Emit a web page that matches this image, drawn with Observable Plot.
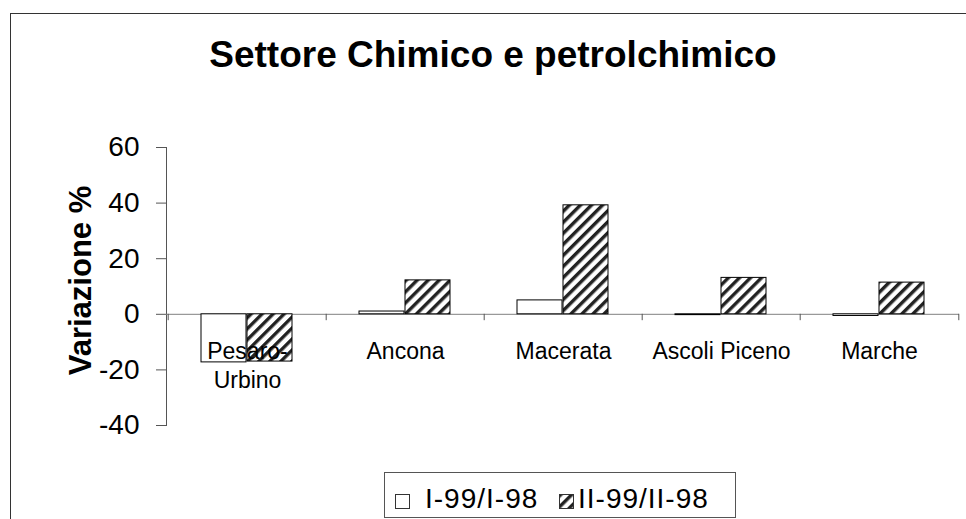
<!DOCTYPE html>
<html>
<head>
<meta charset="utf-8">
<script src="https://cdn.jsdelivr.net/npm/d3@7"></script>
<script src="https://cdn.jsdelivr.net/npm/@observablehq/plot@0.6"></script>
<style>
  html, body { margin: 0; padding: 0; background: white; }
  #wrap { position: relative; width: 966px; height: 519px; overflow: hidden; font-family: "Liberation Sans", Arial, sans-serif; background: white; }
  #chart { position: absolute; left: 0; top: 0; }
  #frame { position: absolute; left: 10px; top: 13px; width: 1000px; height: 600px; border: 1px solid #333; pointer-events: none; }
  #title { position: absolute; left: 0; top: 36px; width: 986px; text-align: center; font-weight: bold; font-size: 37px; line-height: 37px; color: #000; }
  #ylabel { position: absolute; left: -70px; top: 264.5px; width: 300px; text-align: center; font-weight: bold; font-size: 31px; line-height: 31px; color: #000; transform: rotate(-90deg); transform-origin: 150px 15.5px; white-space: nowrap; }
  #legend { position: absolute; left: 384px; top: 472px; width: 352px; height: 46px; box-sizing: border-box; border: 1px solid #555; background: white; }
  #legend .sw { position: absolute; top: 21px; }
  #legend .lab { position: absolute; top: 12px; font-size: 28px; line-height: 28px; letter-spacing: 1px; color: #000; white-space: nowrap; }
</style>
</head>
<body>
<div id="wrap">
  <div id="chart"></div>
  <div id="title"></div>
  <div id="ylabel"></div>
  <div id="legend"></div>
  <div id="frame"></div>
</div>
<script>
const titleText = "Settore Chimico e petrolchimico";
const yLabel = "Variazione %";
const categories = ["Pesaro-\nUrbino", "Ancona", "Macerata", "Ascoli Piceno", "Marche"];
const series = ["I-99/I-98", "II-99/II-98"];
const valuesI = [-17.3, 1.0, 5.0, -0.3, -0.6];
const valuesII = [-17.0, 12.2, 39.2, 13.1, 11.4];
const yTicks = [-40, -20, 0, 20, 40, 60];

const rowsI = categories.map((c, i) => ({category: c, series: series[0], value: valuesI[i]}));
const rowsII = categories.map((c, i) => ({category: c, series: series[1], value: valuesII[i]}));

const patternDef = `
  <pattern id="hatch" width="7.8" height="7.8" patternUnits="userSpaceOnUse" patternTransform="rotate(45)">
    <rect width="7.8" height="7.8" fill="white"/>
    <rect x="0" width="3.4" height="7.8" fill="#222"/>
  </pattern>`;

const chart = Plot.plot({
  width: 966,
  height: 519,
  marginTop: 147,
  marginBottom: 94,
  marginLeft: 166,
  marginRight: 7,
  style: {fontFamily: "'Liberation Sans', Arial, sans-serif", background: "transparent", color: "#000"},
  x: {domain: categories, padding: 0, axis: null},
  y: {domain: [-40, 60], axis: null},
  marks: [
    Plot.frame({anchor: "left", stroke: "#555"}),
    Plot.axisY({ticks: yTicks, tickSize: 10, tickPadding: 17, fontSize: 28, stroke: "#555", fill: "#000", label: null, tickFormat: d => String(d)}),
    Plot.ruleY([0], {stroke: "#808080"}),
    Plot.ruleX(categories, {x: d => d, dx: -79.3, y1: d => 0, y2: d => -2.3, stroke: "#555"}),
    Plot.ruleX(categories.slice(-1), {x: d => d, dx: 79.3, y1: d => 0, y2: d => -2.3, stroke: "#555"}),
    Plot.barY(rowsI, {x: "category", y: "value", fill: "white", stroke: "#000", strokeWidth: 1, insetLeft: 33, insetRight: 80}),
    Plot.barY(rowsII, {x: "category", y: "value", fill: "url(#hatch)", stroke: "#000", strokeWidth: 1, insetLeft: 79, insetRight: 34}),
    Plot.text(categories, {x: d => d, y: d => 0, text: d => d, fontSize: 23, lineAnchor: "top", dy: 23, lineHeight: 1.3, fill: "#000"})
  ]
});

const ns = "http://www.w3.org/2000/svg";
const defs = document.createElementNS(ns, "defs");
defs.innerHTML = patternDef;
chart.insertBefore(defs, chart.firstChild);
document.getElementById("chart").appendChild(chart);

document.getElementById("title").textContent = titleText;
document.getElementById("ylabel").textContent = yLabel;

const legend = document.getElementById("legend");
const swatchLeft = [10, 174];
const labelLeft = [40, 193];
series.forEach((s, i) => {
  const sw = document.createElementNS(ns, "svg");
  sw.setAttribute("class", "sw");
  sw.setAttribute("width", 16);
  sw.setAttribute("height", 16);
  sw.style.left = swatchLeft[i] + "px";
  sw.innerHTML = `<defs>${patternDef.replace('id="hatch"', 'id="hatchL"')}</defs>
    <rect x="0.5" y="0.5" width="14" height="14" fill="${i === 0 ? "white" : "url(#hatchL)"}" stroke="#333"/>`;
  legend.appendChild(sw);
  const lab = document.createElement("div");
  lab.className = "lab";
  lab.style.left = labelLeft[i] + "px";
  lab.textContent = s;
  legend.appendChild(lab);
});
</script>
</body>
</html>
